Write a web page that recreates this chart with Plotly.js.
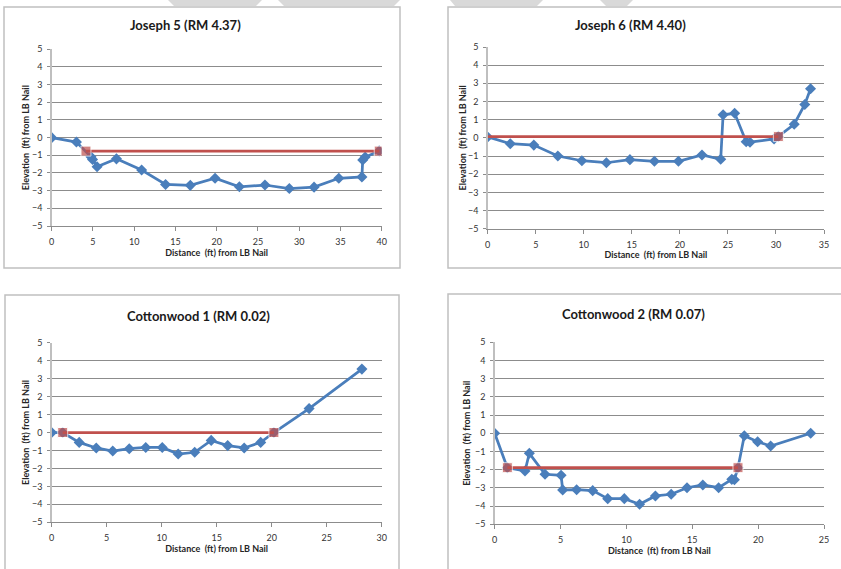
<!DOCTYPE html>
<html>
<head>
<meta charset="utf-8">
<script src="https://cdn.plot.ly/plotly-3.0.1.min.js"></script>
<style>html,body{margin:0;padding:0;background:#fff;}#chart{width:841px;height:569px;}</style>
</head>
<body>
<div id="chart"></div>
<script>
// ---- Data ----
var panelTitles = ["Joseph 5 (RM 4.37)", "Joseph 6 (RM 4.40)", "Cottonwood 1 (RM 0.02)", "Cottonwood 2 (RM 0.07)"];
var xTitle = "Distance  (ft) from LB Nail";
var yTitle = "Elevation  (ft) from LB Nail";

var j5X = [0, 3.0, 4.75, 4.95, 5.5, 7.85, 10.9, 13.8, 16.8, 19.8, 22.75, 25.85, 28.8, 31.8, 34.8, 37.6, 37.7, 38.0, 39.7];
var j5Y = [0, -0.25, -1.08, -1.23, -1.65, -1.2, -1.83, -2.65, -2.7, -2.3, -2.78, -2.68, -2.88, -2.8, -2.3, -2.22, -1.26, -1.1, -0.75];
var j5WsX = [4.15, 39.7];
var j5WsY = [-0.76, -0.76];

var j6X = [0, 2.35, 4.8, 7.3, 9.8, 12.35, 14.8, 17.35, 19.85, 22.3, 24.25, 24.5, 25.7, 26.9, 27.3, 29.8, 30.25, 31.9, 33.0, 33.6];
var j6Y = [0.05, -0.32, -0.4, -1.0, -1.26, -1.37, -1.2, -1.29, -1.29, -0.94, -1.18, 1.27, 1.35, -0.21, -0.24, -0.06, 0.08, 0.75, 1.84, 2.7];
var j6WsX = [0, 30.25];
var j6WsY = [0.07, 0.07];

var c1X = [0, 1.0, 2.5, 4.05, 5.55, 7.05, 8.55, 10.05, 11.5, 13.0, 14.5, 16.0, 17.5, 19.0, 20.2, 23.4, 28.2];
var c1Y = [0, 0, -0.55, -0.86, -1.03, -0.9, -0.83, -0.83, -1.2, -1.1, -0.44, -0.73, -0.86, -0.55, 0, 1.33, 3.53];
var c1WsX = [1.0, 20.2];
var c1WsY = [0, 0];

var c2X = [0, 0.96, 2.3, 2.63, 3.82, 5.04, 5.16, 6.22, 7.44, 8.58, 9.84, 11.0, 12.2, 13.4, 14.6, 15.8, 17.0, 18.0, 18.2, 18.47, 18.95, 19.96, 20.95, 23.99];
var c2Y = [0, -1.89, -2.07, -1.1, -2.25, -2.31, -3.11, -3.1, -3.15, -3.59, -3.59, -3.9, -3.44, -3.35, -2.99, -2.84, -2.99, -2.53, -2.55, -1.89, -0.13, -0.46, -0.7, 0];
var c2WsX = [0.96, 18.47];
var c2WsY = [-1.89, -1.89];

var xMax = [40, 35, 30, 25];

// ---- Layout helpers ----
var W = 841, H = 569;
function px(x) { return x / W; }
function py(y) { return 1 - y / H; }

var FONT = "Lato, 'Open Sans', sans-serif";
var BLUE = "#4a7ebb";
var RED = "#c0504d";

var profiles = [[j5X, j5Y], [j6X, j6Y], [c1X, c1Y], [c2X, c2Y]];
var surfaces = [[j5WsX, j5WsY], [j6WsX, j6WsY], [c1WsX, c1WsY], [c2WsX, c2WsY]];
var wsMarkerSize = [[10, 10], [0, 10], [10, 10], [10, 10]];

// plot areas in pixels [x0, x1, yTop, yBottom]
var areas = [
  [51.7, 381.7, 49.3, 226],
  [487.7, 824, 47, 228.7],
  [51.7, 381.7, 342.7, 522.3],
  [494.7, 824, 342.3, 524.3]
];
var titlePos = [[185, 25], [630, 25], [198, 316], [633, 314]];
var yStandoff = [1, 0, 1, 3];
var boxes = [
  [4, 400, 7, 268],
  [448, 842, 7, 268],
  [5, 399, 295, 572],
  [448, 842, 294, 572]
];

var data = [];
var layout = {
  width: W, height: H,
  margin: {l: 0, r: 0, t: 0, b: 0},
  paper_bgcolor: "#ffffff",
  plot_bgcolor: "#ffffff",
  showlegend: false,
  font: {family: FONT, color: "#404040"},
  annotations: [],
  shapes: []
};

for (var i = 0; i < 4; i++) {
  var sfx = i === 0 ? "" : String(i + 1);
  var xa = "x" + sfx, ya = "y" + sfx;
  data.push({
    x: profiles[i][0], y: profiles[i][1], xaxis: xa, yaxis: ya,
    type: "scatter", mode: "lines+markers",
    line: {color: BLUE, width: 2.75},
    marker: {symbol: "diamond", size: 8.5, color: BLUE},
    name: "Profile"
  });
  data.push({
    x: surfaces[i][0], y: surfaces[i][1], xaxis: xa, yaxis: ya,
    type: "scatter", mode: "lines+markers",
    line: {color: RED, width: 2.75},
    marker: {symbol: "square", size: wsMarkerSize[i], color: RED},
    name: "Water Surface"
  });
  var a = areas[i];
  layout["xaxis" + sfx] = {
    domain: [px(a[0]), px(a[1])], anchor: ya,
    range: [0, xMax[i]], dtick: 5, tick0: 0,
    showgrid: false, zeroline: false,
    showline: true, linecolor: "#8c8c8c", linewidth: 1,
    ticks: "outside", ticklen: 4, tickcolor: "#8c8c8c",
    tickfont: {family: FONT, size: 9, color: "#333333"},
    ticklabelstandoff: 3,
    title: {text: xTitle, standoff: 2, font: {family: FONT, size: 9, color: "#262626", weight: "bold"}},
    fixedrange: true
  };
  layout["yaxis" + sfx] = {
    domain: [py(a[3]), py(a[2])], anchor: xa,
    range: [-5, 5], dtick: 1, tick0: 0,
    showgrid: true, gridcolor: "#8c8c8c", gridwidth: 1,
    zeroline: false,
    showline: true, linecolor: "#bfbfbf", linewidth: 1.5,
    ticks: "outside", ticklen: 3, tickcolor: "#8c8c8c",
    tickfont: {family: FONT, size: 9, color: "#333333"},
    ticklabelstandoff: 3,
    title: {text: yTitle, standoff: yStandoff[i], font: {family: FONT, size: 9, color: "#262626", weight: "bold"}},
    fixedrange: true
  };
  layout.annotations.push({
    text: "<b>" + panelTitles[i] + "</b>",
    xref: "paper", yref: "paper",
    x: px(titlePos[i][0]), y: py(titlePos[i][1]),
    xanchor: "center", yanchor: "middle", showarrow: false,
    font: {family: FONT, size: 13, color: "#1a1a1a"}
  });
  var b = boxes[i];
  layout.shapes.push({
    type: "rect", xref: "paper", yref: "paper",
    x0: px(b[0]), x1: px(b[1]), y0: py(b[3]), y1: py(b[2]),
    line: {color: "#c0c0c0", width: 1.5}, fillcolor: "rgba(0,0,0,0)", layer: "below"
  });
}

// light grey marks along the top edge
var topMarks = [[168, 262, 174, 256], [278, 400, 284, 394], [450, 543, 455, 537], [600, 633, 606, 627]];
topMarks.forEach(function (m) {
  layout.shapes.push({
    type: "path", xref: "paper", yref: "paper",
    path: "M " + px(m[0]) + " " + py(0) + " L " + px(m[1]) + " " + py(0) + " L " + px(m[3]) + " " + py(6) + " L " + px(m[2]) + " " + py(6) + " Z",
    fillcolor: "#d9d9d9", line: {width: 0}, layer: "below"
  });
});

Plotly.newPlot("chart", data, layout, {displayModeBar: false, staticPlot: true});
</script>
</body>
</html>
